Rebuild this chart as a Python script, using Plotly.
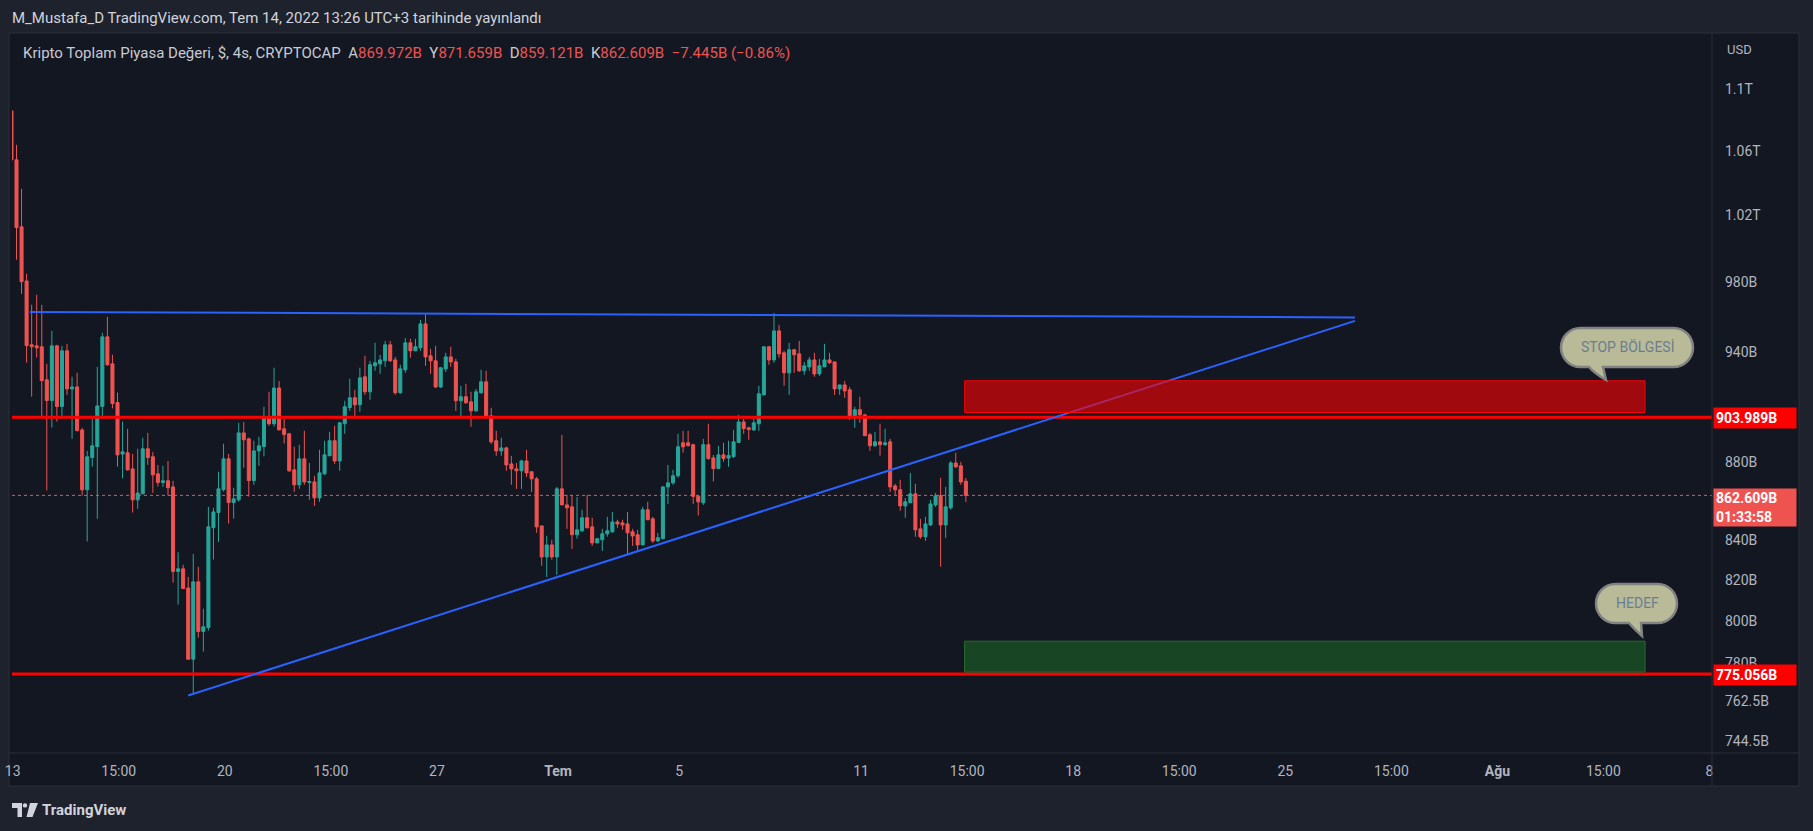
import math
import pandas as pd
import plotly.graph_objects as go

# ---------------- data (values in billions USD) ----------------
bar_times = pd.date_range("2022-06-12 23:00", periods=190, freq="4h")

open_ = [1085.9,
 1054.6, 1013.1, 980.8, 944.0, 943.4, 942.9, 924.4, 913.0, 943.4, 909.8,
 940.6, 919.4, 920.5, 897.1, 865.5, 882.4, 888.2, 909.8, 948.5, 933.3,
 911.9, 884.2, 884.9, 876.4, 860.3, 863.4, 887.0, 882.8, 873.8, 869.3,
 870.2, 867.0, 824.2, 825.5, 816.1, 782.0, 819.1, 795.1, 797.0, 846.1,
 853.8, 865.6, 881.7, 858.9, 860.3, 895.5, 892.3, 870.3, 885.9, 888.2,
 903.9, 900.4, 919.9, 897.7, 895.0, 875.9, 868.1, 881.7, 869.3, 869.6,
 861.3, 873.8, 883.3, 891.3, 880.6, 900.4, 909.2, 914.5, 910.7, 926.1,
 917.8, 932.2, 933.3, 935.0, 944.0, 935.5, 917.3, 930.0, 945.1, 940.6,
 942.3, 955.9, 937.8, 935.0, 920.5, 930.5, 937.2, 934.4, 912.9, 915.1,
 912.3, 907.4, 917.3, 923.3, 904.7, 891.3, 885.9, 887.5, 879.0, 876.4,
 875.4, 880.6, 874.9, 871.2, 847.0, 831.4, 837.4, 831.4, 866.0, 857.7,
 856.7, 842.5, 844.5, 851.1, 846.5, 838.4, 840.0, 843.0, 844.0, 849.0,
 848.5, 848.0, 844.0, 842.5, 837.4, 855.2, 850.6, 839.4, 840.5, 867.0,
 869.1, 872.8, 890.2, 890.2, 889.2, 862.2, 858.8, 889.2, 882.2, 876.6,
 883.8, 882.1, 882.9, 890.4, 901.4, 898.2, 897.1, 900.4, 916.1, 942.9,
 935.5, 951.9, 939.5, 928.3, 941.2, 938.9, 929.4, 931.6, 935.5, 927.7,
 931.6, 935.5, 934.4, 919.4, 921.6, 918.9, 903.6, 908.0, 905.2, 894.5,
 888.6, 890.7, 889.2, 890.7, 867.5, 865.5, 857.2, 858.8, 863.4, 845.5,
 841.5, 847.5, 857.7, 862.4, 847.5, 856.2, 879.5, 878.0, 869.972]

high = [1088.0,
 1064.1, 1036.4, 985.0, 966.9, 972.7, 966.9, 933.3, 951.9, 944.0, 943.4,
 944.5, 926.1, 928.3, 898.2, 885.9, 904.3, 931.6, 950.8, 960.0, 938.4,
 917.4, 901.6, 897.7, 884.3, 887.0, 892.9, 895.5, 885.4, 878.5, 878.0,
 880.6, 870.2, 833.8, 827.5, 821.5, 832.9, 826.5, 806.0, 856.7, 856.2,
 874.9, 889.7, 884.3, 866.5, 900.9, 901.4, 892.9, 891.3, 893.4, 909.6,
 917.8, 931.1, 923.8, 903.1, 895.5, 888.1, 889.2, 896.6, 879.5, 872.8,
 886.5, 891.3, 896.1, 899.3, 901.4, 912.9, 925.0, 918.9, 931.1, 937.8,
 935.0, 945.1, 938.3, 946.2, 946.2, 937.2, 932.8, 947.9, 947.4, 947.4,
 958.2, 961.7, 941.7, 943.4, 931.6, 939.5, 942.9, 936.1, 921.1, 922.2,
 917.8, 919.4, 930.0, 929.4, 909.0, 896.6, 892.9, 888.1, 883.3, 879.5,
 881.2, 886.5, 874.9, 872.2, 847.0, 842.0, 840.0, 867.0, 894.4, 862.9,
 862.9, 861.8, 855.2, 862.9, 851.1, 841.0, 845.5, 851.6, 854.1, 850.1,
 850.1, 854.1, 845.5, 845.0, 856.7, 859.3, 851.6, 843.5, 867.5, 878.5,
 875.9, 895.0, 896.6, 896.6, 889.7, 862.4, 892.3, 900.4, 883.8, 888.6,
 890.2, 891.3, 897.1, 905.2, 903.1, 898.8, 904.2, 921.1, 942.9, 943.4,
 962.2, 955.3, 940.6, 945.1, 941.7, 946.2, 934.4, 937.2, 939.5, 936.1,
 944.5, 939.5, 934.4, 921.6, 923.8, 920.5, 909.6, 915.1, 905.8, 895.5,
 896.1, 900.4, 897.7, 892.3, 868.6, 870.7, 861.3, 874.3, 868.6, 850.6,
 851.6, 860.3, 863.9, 871.7, 867.0, 880.6, 884.9, 880.1, 871.659]

low = [1053.0,
 993.3, 973.2, 934.0, 915.2, 936.8, 904.3, 865.1, 898.4, 901.6, 903.1,
 916.1, 892.3, 896.2, 862.5, 839.1, 877.6, 850.6, 903.1, 932.2, 908.7,
 877.6, 871.4, 875.4, 853.8, 855.7, 863.4, 878.5, 863.9, 867.2, 867.0,
 862.5, 818.7, 808.0, 815.8, 782.0, 766.3, 792.2, 785.6, 795.5, 830.1,
 838.9, 864.6, 848.2, 850.7, 859.4, 877.0, 862.0, 868.1, 878.0, 883.0,
 899.3, 898.9, 897.1, 889.8, 874.9, 864.4, 866.0, 868.1, 860.3, 857.2,
 859.3, 873.3, 883.3, 879.0, 875.4, 895.0, 907.4, 903.1, 906.9, 916.1,
 913.4, 929.4, 927.7, 931.6, 934.4, 916.1, 916.7, 928.3, 936.7, 940.6,
 940.6, 932.2, 927.7, 919.9, 919.9, 928.8, 931.6, 907.4, 904.2, 911.2,
 898.8, 906.9, 916.7, 904.2, 889.6, 883.3, 883.3, 875.4, 868.1, 866.0,
 866.0, 872.2, 864.4, 843.5, 827.0, 821.5, 830.0, 822.5, 857.7, 845.5,
 835.4, 840.5, 844.0, 846.0, 836.9, 838.4, 834.4, 841.5, 843.5, 846.0,
 845.0, 832.4, 836.9, 834.4, 837.4, 850.1, 838.4, 838.9, 840.5, 858.2,
 868.1, 871.7, 884.9, 888.1, 858.2, 852.3, 857.7, 881.2, 869.8, 876.4,
 880.1, 877.5, 882.2, 890.2, 895.0, 891.8, 896.6, 896.6, 916.1, 932.8,
 933.9, 936.7, 921.1, 916.1, 928.3, 928.8, 927.2, 929.4, 926.1, 926.6,
 931.6, 933.3, 916.1, 916.1, 914.5, 902.5, 898.2, 900.9, 894.0, 885.9,
 888.1, 883.3, 888.6, 864.4, 862.9, 854.7, 851.1, 858.8, 841.5, 840.5,
 839.4, 847.0, 856.7, 826.5, 840.9, 855.2, 876.9, 868.1, 859.121]

close = [1054.6,
 1012.7, 980.4, 943.6, 942.9, 942.3, 924.0, 913.0, 943.4, 909.8, 940.6,
 919.4, 920.5, 896.8, 865.5, 882.8, 888.6, 910.1, 948.5, 932.8, 911.4,
 883.8, 885.4, 875.9, 860.3, 863.8, 887.0, 882.4, 873.3, 869.3, 870.2,
 866.6, 824.2, 825.5, 815.8, 782.0, 819.1, 795.1, 797.3, 846.5, 854.1,
 866.0, 881.7, 858.9, 860.8, 895.5, 891.8, 870.3, 885.9, 888.6, 903.9,
 900.4, 919.9, 897.1, 894.6, 875.4, 868.1, 881.7, 869.6, 869.8, 861.3,
 874.3, 883.8, 891.3, 880.6, 900.9, 909.6, 914.5, 910.7, 925.5, 917.8,
 932.8, 933.9, 935.5, 944.0, 935.0, 917.3, 930.5, 945.1, 940.6, 942.9,
 955.9, 937.2, 935.0, 920.5, 931.1, 937.2, 934.4, 912.9, 915.1, 911.8,
 907.4, 917.8, 923.3, 904.2, 890.7, 885.9, 887.5, 878.5, 876.4, 875.4,
 880.6, 874.3, 871.2, 846.5, 831.4, 837.4, 831.4, 866.0, 857.7, 856.2,
 842.5, 845.0, 851.1, 846.0, 838.4, 840.5, 843.0, 844.5, 849.0, 848.0,
 847.5, 843.5, 841.9, 837.4, 855.2, 850.1, 839.4, 841.0, 867.0, 869.1,
 872.8, 888.1, 888.1, 888.8, 862.1, 859.3, 889.2, 881.9, 876.6, 883.8,
 881.9, 883.5, 890.7, 901.4, 897.8, 897.3, 900.9, 916.7, 942.9, 935.5,
 951.9, 938.9, 928.3, 941.2, 938.4, 929.4, 932.2, 935.5, 927.7, 932.2,
 935.5, 933.9, 919.4, 921.6, 918.3, 903.6, 908.0, 905.2, 894.0, 888.6,
 890.7, 889.2, 890.2, 867.0, 865.5, 857.2, 859.3, 863.4, 845.0, 841.5,
 848.0, 858.2, 862.4, 847.5, 856.7, 879.5, 877.5, 869.6, 862.609]

# trend lines
resistance_x = ["2022-06-13 13:40", "2022-07-27 07:10"]
resistance_y = [962.8, 959.6]
support_x = ["2022-06-18 19:00", "2022-07-27 07:10"]
support_y = [765.2, 957.6]

# horizontal levels
stop_level = 903.989
target_level = 775.056
last_price = 862.609

# zones
zone_x = ["2022-07-14 10:00", "2022-08-05 21:00"]
stop_zone = [906.5, 923.9]
target_zone = [776.0, 790.5]

x_range = ["2022-06-12 23:26", "2022-08-08 02:00"]
y_range = [739.3, 1137.1]

ytick_vals = [744.5, 762.5, 780, 800, 820, 840, 880, 940, 980, 1020, 1060, 1100]
ytick_text = ["744.5B", "762.5B", "780B", "800B", "820B", "840B", "880B",
              "940B", "980B", "1.02T", "1.06T", "1.1T"]

xtick_vals = ["2022-06-13", "2022-06-16 12:00", "2022-06-20", "2022-06-23 12:00",
              "2022-06-27", "2022-07-01", "2022-07-05", "2022-07-11",
              "2022-07-14 12:00", "2022-07-18", "2022-07-21 12:00", "2022-07-25",
              "2022-07-28 12:00", "2022-08-01", "2022-08-04 12:00", "2022-08-08"]
xtick_text = ["13", "15:00", "20", "15:00", "27", "<b>Tem</b>", "5", "11", "15:00",
              "18", "15:00", "25", "15:00", "<b>Ağu</b>", "15:00", "8"]

# ---------------- layout geometry ----------------
W, H = 1813, 831
ML, MR, MT, MB = 12, 101, 34, 78
PW, PH = W - ML - MR, H - MT - MB
BOTTOM = H - MB

def px(X):
    return (X - ML) / PW

def py(Y):
    return (BOTTOM - Y) / PH

FONT = "Roboto, 'Noto Sans', sans-serif"
UP, DOWN = "#26a69a", "#ef5350"
BG_PANEL, BG_PAGE, BORDER = "#131722", "#1e222d", "#2a2e39"
TXT = "#b2b5be"

fig = go.Figure()

fig.add_trace(go.Candlestick(
    x=bar_times, open=open_, high=high, low=low, close=close,
    increasing=dict(line=dict(color=UP, width=1), fillcolor=UP),
    decreasing=dict(line=dict(color=DOWN, width=1), fillcolor=DOWN),
    whiskerwidth=0, hoverinfo="skip", showlegend=False))

fig.add_trace(go.Scatter(x=x_range, y=[last_price, last_price], mode="lines",
                         line=dict(color=DOWN, width=1, dash="dot"),
                         hoverinfo="skip", showlegend=False))
for lvl in (stop_level, target_level):
    fig.add_trace(go.Scatter(x=x_range, y=[lvl, lvl], mode="lines",
                             line=dict(color="#ff0000", width=3),
                             hoverinfo="skip", showlegend=False))

for xs, ys in ((resistance_x, resistance_y), (support_x, support_y)):
    fig.add_trace(go.Scatter(x=xs, y=ys, mode="lines",
                             line=dict(color="#2962ff", width=2),
                             hoverinfo="skip", showlegend=False))

def zone(yy, fill, edge):
    x0, x1 = zone_x
    fig.add_trace(go.Scatter(x=[x0, x1, x1, x0, x0],
                             y=[yy[0], yy[0], yy[1], yy[1], yy[0]],
                             mode="lines", fill="toself", fillcolor=fill,
                             line=dict(color=edge, width=1),
                             hoverinfo="skip", showlegend=False))

zone(stop_zone, "rgba(255,0,0,0.6)", "rgba(255,0,0,0.95)")
zone(target_zone, "rgba(30,110,40,0.55)", "rgba(40,115,45,0.9)")

# ---------------- shapes (panel, borders, callouts, logo) ----------------
shapes = [
    dict(type="rect", xref="paper", yref="paper", x0=px(9), x1=px(1799),
         y0=py(786), y1=py(33), fillcolor=BG_PANEL, line=dict(color=BORDER, width=1),
         layer="below"),
    dict(type="line", xref="paper", yref="paper", x0=px(1712), x1=px(1712),
         y0=py(786), y1=py(33), line=dict(color=BORDER, width=1), layer="above"),
    dict(type="line", xref="paper", yref="paper", x0=px(9), x1=px(1799),
         y0=py(753), y1=py(753), line=dict(color=BORDER, width=1), layer="above"),
]

def P(X, Y):
    return f"{px(X):.6f},{py(Y):.6f}"

def bubble(Lx, Rx, Ty, By, tl, tr, tip):
    r = (By - Ty) / 2
    k = 0.5523 * r
    cy = (Ty + By) / 2
    d = (f"M{P(Lx + r, Ty)} L{P(Rx - r, Ty)} "
         f"C{P(Rx - r + k, Ty)} {P(Rx, cy - k)} {P(Rx, cy)} "
         f"C{P(Rx, cy + k)} {P(Rx - r + k, By)} {P(Rx - r, By)} "
         f"L{P(tr, By)} L{P(*tip)} Q{P(tl + 5, By + 6)} {P(tl, By)} "
         f"L{P(Lx + r, By)} "
         f"C{P(Lx + r - k, By)} {P(Lx, cy + k)} {P(Lx, cy)} "
         f"C{P(Lx, cy - k)} {P(Lx + r - k, Ty)} {P(Lx + r, Ty)} Z")
    return dict(type="path", xref="paper", yref="paper", path=d,
                fillcolor="#b9ba98", line=dict(color="#828282", width=2.5),
                layer="above")

shapes.append(bubble(1561, 1693, 328, 367, 1589, 1603, (1606, 380)))
shapes.append(bubble(1596, 1677, 584, 623, 1629, 1641, (1642, 636)))

# TradingView logo (simplified)
logo_col = "#d1d4dc"
shapes.append(dict(type="path", xref="paper", yref="paper",
                   path=f"M{P(12, 803)} L{P(22, 803)} L{P(22, 817)} L{P(17.5, 817)} "
                        f"L{P(17.5, 808)} L{P(12, 808)} Z",
                   fillcolor=logo_col, line=dict(width=0), layer="above"))
shapes.append(dict(type="circle", xref="paper", yref="paper",
                   x0=px(22.8), x1=px(27.2), y0=py(807.6), y1=py(803.2),
                   fillcolor=logo_col, line=dict(width=0), layer="above"))
shapes.append(dict(type="path", xref="paper", yref="paper",
                   path=f"M{P(30, 803)} L{P(38, 803)} L{P(32.5, 817)} L{P(26.5, 817)} Z",
                   fillcolor=logo_col, line=dict(width=0), layer="above"))

# ---------------- annotations ----------------
ann = []
ann.append(dict(xref="paper", yref="paper", x=px(10), y=py(17.5), xanchor="left",
                yanchor="middle", showarrow=False,
                text="M_Mustafa_D TradingView.com, Tem 14, 2022 13:26 UTC+3 tarihinde yayınlandı",
                font=dict(family=FONT, size=15, color="#d1d4dc")))

red = "#ef5350"
legend_txt = ("Kripto Toplam Piyasa Değeri, $, 4s, CRYPTOCAP&nbsp;&nbsp;"
              f"A<span style='color:{red}'>869.972B</span>&nbsp;&nbsp;"
              f"Y<span style='color:{red}'>871.659B</span>&nbsp;&nbsp;"
              f"D<span style='color:{red}'>859.121B</span>&nbsp;&nbsp;"
              f"K<span style='color:{red}'>862.609B</span>&nbsp;&nbsp;"
              f"<span style='color:{red}'>−7.445B (−0.86%)</span>")
ann.append(dict(xref="paper", yref="paper", x=px(21), y=py(53), xanchor="left",
                yanchor="middle", showarrow=False, text=legend_txt,
                font=dict(family=FONT, size=15, color="#c8cbd3")))

ann.append(dict(xref="paper", yref="paper", x=px(1725), y=py(50), xanchor="left",
                yanchor="middle", showarrow=False, text="USD",
                font=dict(family=FONT, size=13, color=TXT)))

for lvl in (stop_level, target_level):
    ann.append(dict(xref="paper", yref="y", x=1.0, xshift=1, y=math.log10(lvl),
                    yshift=-1, xanchor="left", yanchor="middle", showarrow=False,
                    text=f"<b>{lvl:.3f}B</b>", bgcolor="#ff0000", width=78, height=16,
                    borderpad=2, align="left",
                    font=dict(family=FONT, size=14, color="#ffffff")))

ann.append(dict(xref="paper", yref="y", x=1.0, xshift=1, y=math.log10(last_price),
                yshift=7, xanchor="left", yanchor="top", showarrow=False,
                text=f"<b>{last_price:.3f}B</b><br><b>01:33:58</b>", bgcolor=DOWN,
                width=78, height=33, borderpad=2, align="left",
                font=dict(family=FONT, size=14, color="#ffffff")))

ann.append(dict(xref="paper", yref="paper", x=px(1627), y=py(347), showarrow=False,
                xanchor="center", yanchor="middle",
                text="STOP BÖLGESİ", font=dict(family=FONT, size=14, color="#6b7d93")))
ann.append(dict(xref="paper", yref="paper", x=px(1637), y=py(603), showarrow=False,
                xanchor="center", yanchor="middle",
                text="HEDEF", font=dict(family=FONT, size=14, color="#6b7d93")))

ann.append(dict(xref="paper", yref="paper", x=px(40), y=py(809.5), xanchor="left",
                yanchor="middle", showarrow=False, text="<b>TradingView</b>",
                font=dict(family=FONT, size=15, color=logo_col)))

fig.update_layout(
    width=W, height=H, autosize=False,
    margin=dict(l=ML, r=MR, t=MT, b=MB, pad=0, autoexpand=False),
    paper_bgcolor=BG_PAGE, plot_bgcolor=BG_PANEL,
    boxgap=0.25, boxgroupgap=0.2,
    showlegend=False, hovermode=False,
    font=dict(family=FONT, size=14, color=TXT),
    shapes=shapes, annotations=ann,
    xaxis=dict(type="date", range=x_range, tickvals=xtick_vals, ticktext=xtick_text,
               showgrid=False, zeroline=False, showline=False, ticks="",
               automargin=False,
               tickfont=dict(family=FONT, size=14, color=TXT),
               ticklabelstandoff=8, rangeslider=dict(visible=False), fixedrange=True),
    yaxis=dict(type="log", range=[math.log10(y_range[0]), math.log10(y_range[1])],
               side="right", tickvals=ytick_vals, ticktext=ytick_text,
               showgrid=False, zeroline=False, showline=False, ticks="",
               automargin=False,
               tickfont=dict(family=FONT, size=14, color=TXT),
               ticklabelstandoff=12, fixedrange=True),
)

fig.write_html("out.html", config={"displayModeBar": False})
